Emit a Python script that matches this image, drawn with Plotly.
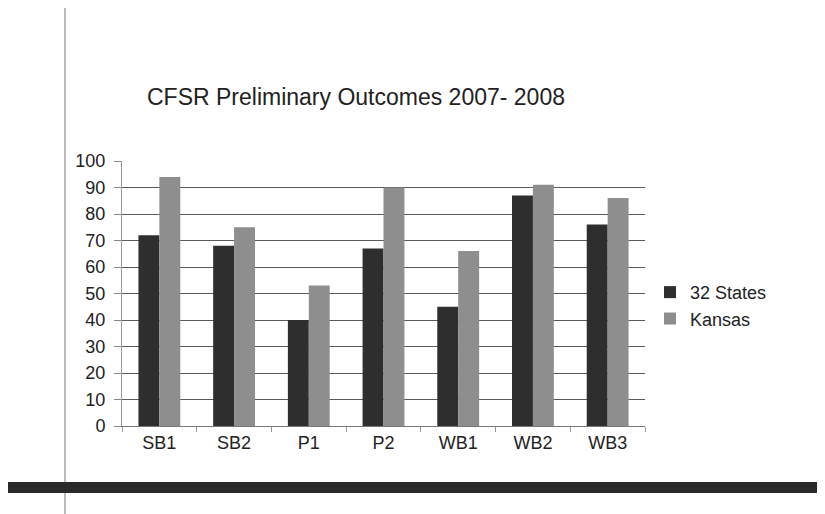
import plotly.graph_objects as go

categories = ["SB1", "SB2", "P1", "P2", "WB1", "WB2", "WB3"]
states32 = [72, 68, 40, 67, 45, 87, 76]
kansas = [94, 75, 53, 90, 66, 91, 86]
series_names = ["32 States", "Kansas"]
title_text = "CFSR Preliminary Outcomes 2007- 2008"

L, T, W_PLOT, H_PLOT = 114, 153, 523, 265
FIG_W, FIG_H = 825, 514

fig = go.Figure()
fig.add_trace(go.Bar(x=categories, y=states32, name=series_names[0],
                     marker=dict(color="#2e2e2e", line=dict(width=0))))
fig.add_trace(go.Bar(x=categories, y=kansas, name=series_names[1],
                     marker=dict(color="#8e8e8e", line=dict(width=0))))

fig.update_layout(
    width=FIG_W, height=FIG_H,
    margin=dict(l=L, r=FIG_W - L - W_PLOT, t=T, b=FIG_H - T - H_PLOT),
    paper_bgcolor="white", plot_bgcolor="white",
    barmode="group", bargap=0.44, bargroupgap=0,
    font=dict(family="Liberation Sans, Arial, sans-serif", color="#222"),
    title=dict(text=title_text, xref="container", x=348 / FIG_W, xanchor="center",
               y=1 - 89 / FIG_H, yanchor="middle",
               font=dict(size=23, color="#222")),
    legend=dict(x=(642 - L) / W_PLOT, xanchor="left", y=0.455, yanchor="middle",
                font=dict(size=18), itemwidth=30, tracegroupgap=0,
                bgcolor="rgba(0,0,0,0)"),
    showlegend=True,
)
fig.update_xaxes(showline=True, linecolor="#777", linewidth=1,
                 ticks="outside", tickson="boundaries", ticklen=5, tickcolor="#999",
                 tickfont=dict(size=18), showgrid=False)
fig.update_yaxes(range=[0, 100], dtick=10, showgrid=True, gridcolor="#5a5a5a", gridwidth=1,
                 showline=True, linecolor="#999", linewidth=1,
                 ticks="outside", ticklen=7, tickcolor="#888", ticklabelstandoff=5,
                 tickfont=dict(size=18), zeroline=False)

# scan decorations: page margin line and thick dark rule
fig.add_shape(type="line", xref="paper", yref="paper",
              x0=(57 - L) / W_PLOT, x1=(57 - L) / W_PLOT,
              y0=-(FIG_H - T - H_PLOT) / H_PLOT, y1=(T + H_PLOT) / H_PLOT,
              line=dict(color="#777", width=1))
fig.add_shape(type="rect", xref="paper", yref="paper",
              x0=(0 - L) / W_PLOT, x1=(FIG_W - L) / W_PLOT,
              y0=(T + H_PLOT - 485) / H_PLOT, y1=(T + H_PLOT - 474) / H_PLOT,
              fillcolor="#2a2a2a", line=dict(width=0))

fig.write_html("out.html")
